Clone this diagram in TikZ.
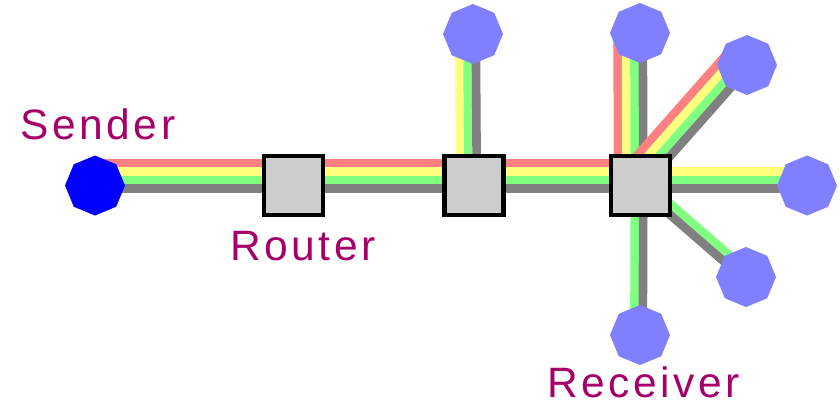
\documentclass[tikz,border=0pt]{standalone}
\usepackage{fontspec}
\newfontfamily\lblfont[LetterSpace=8.5]{Liberation Sans}
\usetikzlibrary{shapes.geometric,calc}
\definecolor{laneRed}{RGB}{255,128,128}
\definecolor{laneYellow}{RGB}{255,255,128}
\definecolor{laneGreen}{RGB}{128,255,128}
\definecolor{laneGray}{RGB}{128,128,128}
\definecolor{hostBlue}{RGB}{128,128,255}
\definecolor{sendBlue}{RGB}{0,0,255}
\definecolor{routerFill}{RGB}{205,205,205}
\definecolor{labelCol}{RGB}{165,0,105}
\newcommand\lane[4]{\draw[lanestyle,#1] ($(#2)!#4!90:(#3)$) -- ($(#3)!#4!-90:(#2)$);}
\begin{document}
\begin{tikzpicture}[x=1pt,y=-1pt,
  lanestyle/.style={line width=8.6pt},
  routerbox/.style={draw=black,line width=4.3pt,fill=routerFill,minimum size=59pt,inner sep=0pt,shape=rectangle},
  hostnode/.style={regular polygon,regular polygon sides=8,shape border rotate=22.5,minimum size=60pt,inner sep=0pt,fill=hostBlue},
  sendnode/.style={hostnode,fill=sendBlue},
  lbl/.style={inner sep=0pt,anchor=base west,text depth=0pt,text=labelCol,font=\lblfont\fontsize{42.5}{50}\selectfont}]
\useasboundingbox (0,0) rectangle (840,402);
% node positions
\coordinate (S) at (95,185.5);
\coordinate (R1) at (293.5,185.5);
\coordinate (R2) at (474,185.5);
\coordinate (R3) at (640.5,185.5);
\coordinate (N2) at (473,34);
\coordinate (Na) at (640,33);
\coordinate (Nb) at (747,65);
\coordinate (Nc) at (807,185.5);
\coordinate (Nd) at (746,277);
\coordinate (Ne) at (640,335);
% lanes: main line
\foreach \a/\b in {S/R1,R1/R2,R2/R3}{
  \lane{laneRed}{\a}{\b}{22.4pt}
  \lane{laneYellow}{\a}{\b}{14pt}
  \lane{laneGreen}{\a}{\b}{5.6pt}
  \lane{laneGray}{\a}{\b}{-2.8pt}
}
% R2 up
\lane{laneYellow}{R2}{N2}{14pt}
\lane{laneGreen}{R2}{N2}{5.6pt}
\lane{laneGray}{R2}{N2}{-2.8pt}
% R3 up and upper right
\foreach \b in {Na,Nb}{
  \lane{laneRed}{R3}{\b}{22.4pt}
  \lane{laneYellow}{R3}{\b}{14pt}
  \lane{laneGreen}{R3}{\b}{5.6pt}
  \lane{laneGray}{R3}{\b}{-2.8pt}
}
% R3 right
\lane{laneYellow}{R3}{Nc}{14pt}
\lane{laneGreen}{R3}{Nc}{5.6pt}
\lane{laneGray}{R3}{Nc}{-2.8pt}
% R3 lower right
\lane{laneGreen}{R3}{Nd}{5.6pt}
\lane{laneGray}{R3}{Nd}{-2.8pt}
% R3 down
\lane{laneGreen}{Ne}{R3}{5.6pt}
\lane{laneGray}{Ne}{R3}{-2.8pt}
% routers
\node[routerbox] (r1) at (R1) {};
\node[routerbox] (r2) at (R2) {};
\node[routerbox] (r3) at (R3) {};
% hosts
\node[sendnode] (sender) at (S) {};
\node[hostnode] (h2) at (N2) {};
\node[hostnode] (ha) at (Na) {};
\node[hostnode] (hb) at (Nb) {};
\node[hostnode] (hc) at (Nc) {};
\node[hostnode] (hd) at (Nd) {};
\node[hostnode] (he) at (Ne) {};
% labels
\node[lbl] (tS) at (20,139) {Sender};
\node[lbl] (tR) at (230,260) {Router};
\node[lbl] (tRc) at (547,397) {Receiver};
\end{tikzpicture}
\end{document}
